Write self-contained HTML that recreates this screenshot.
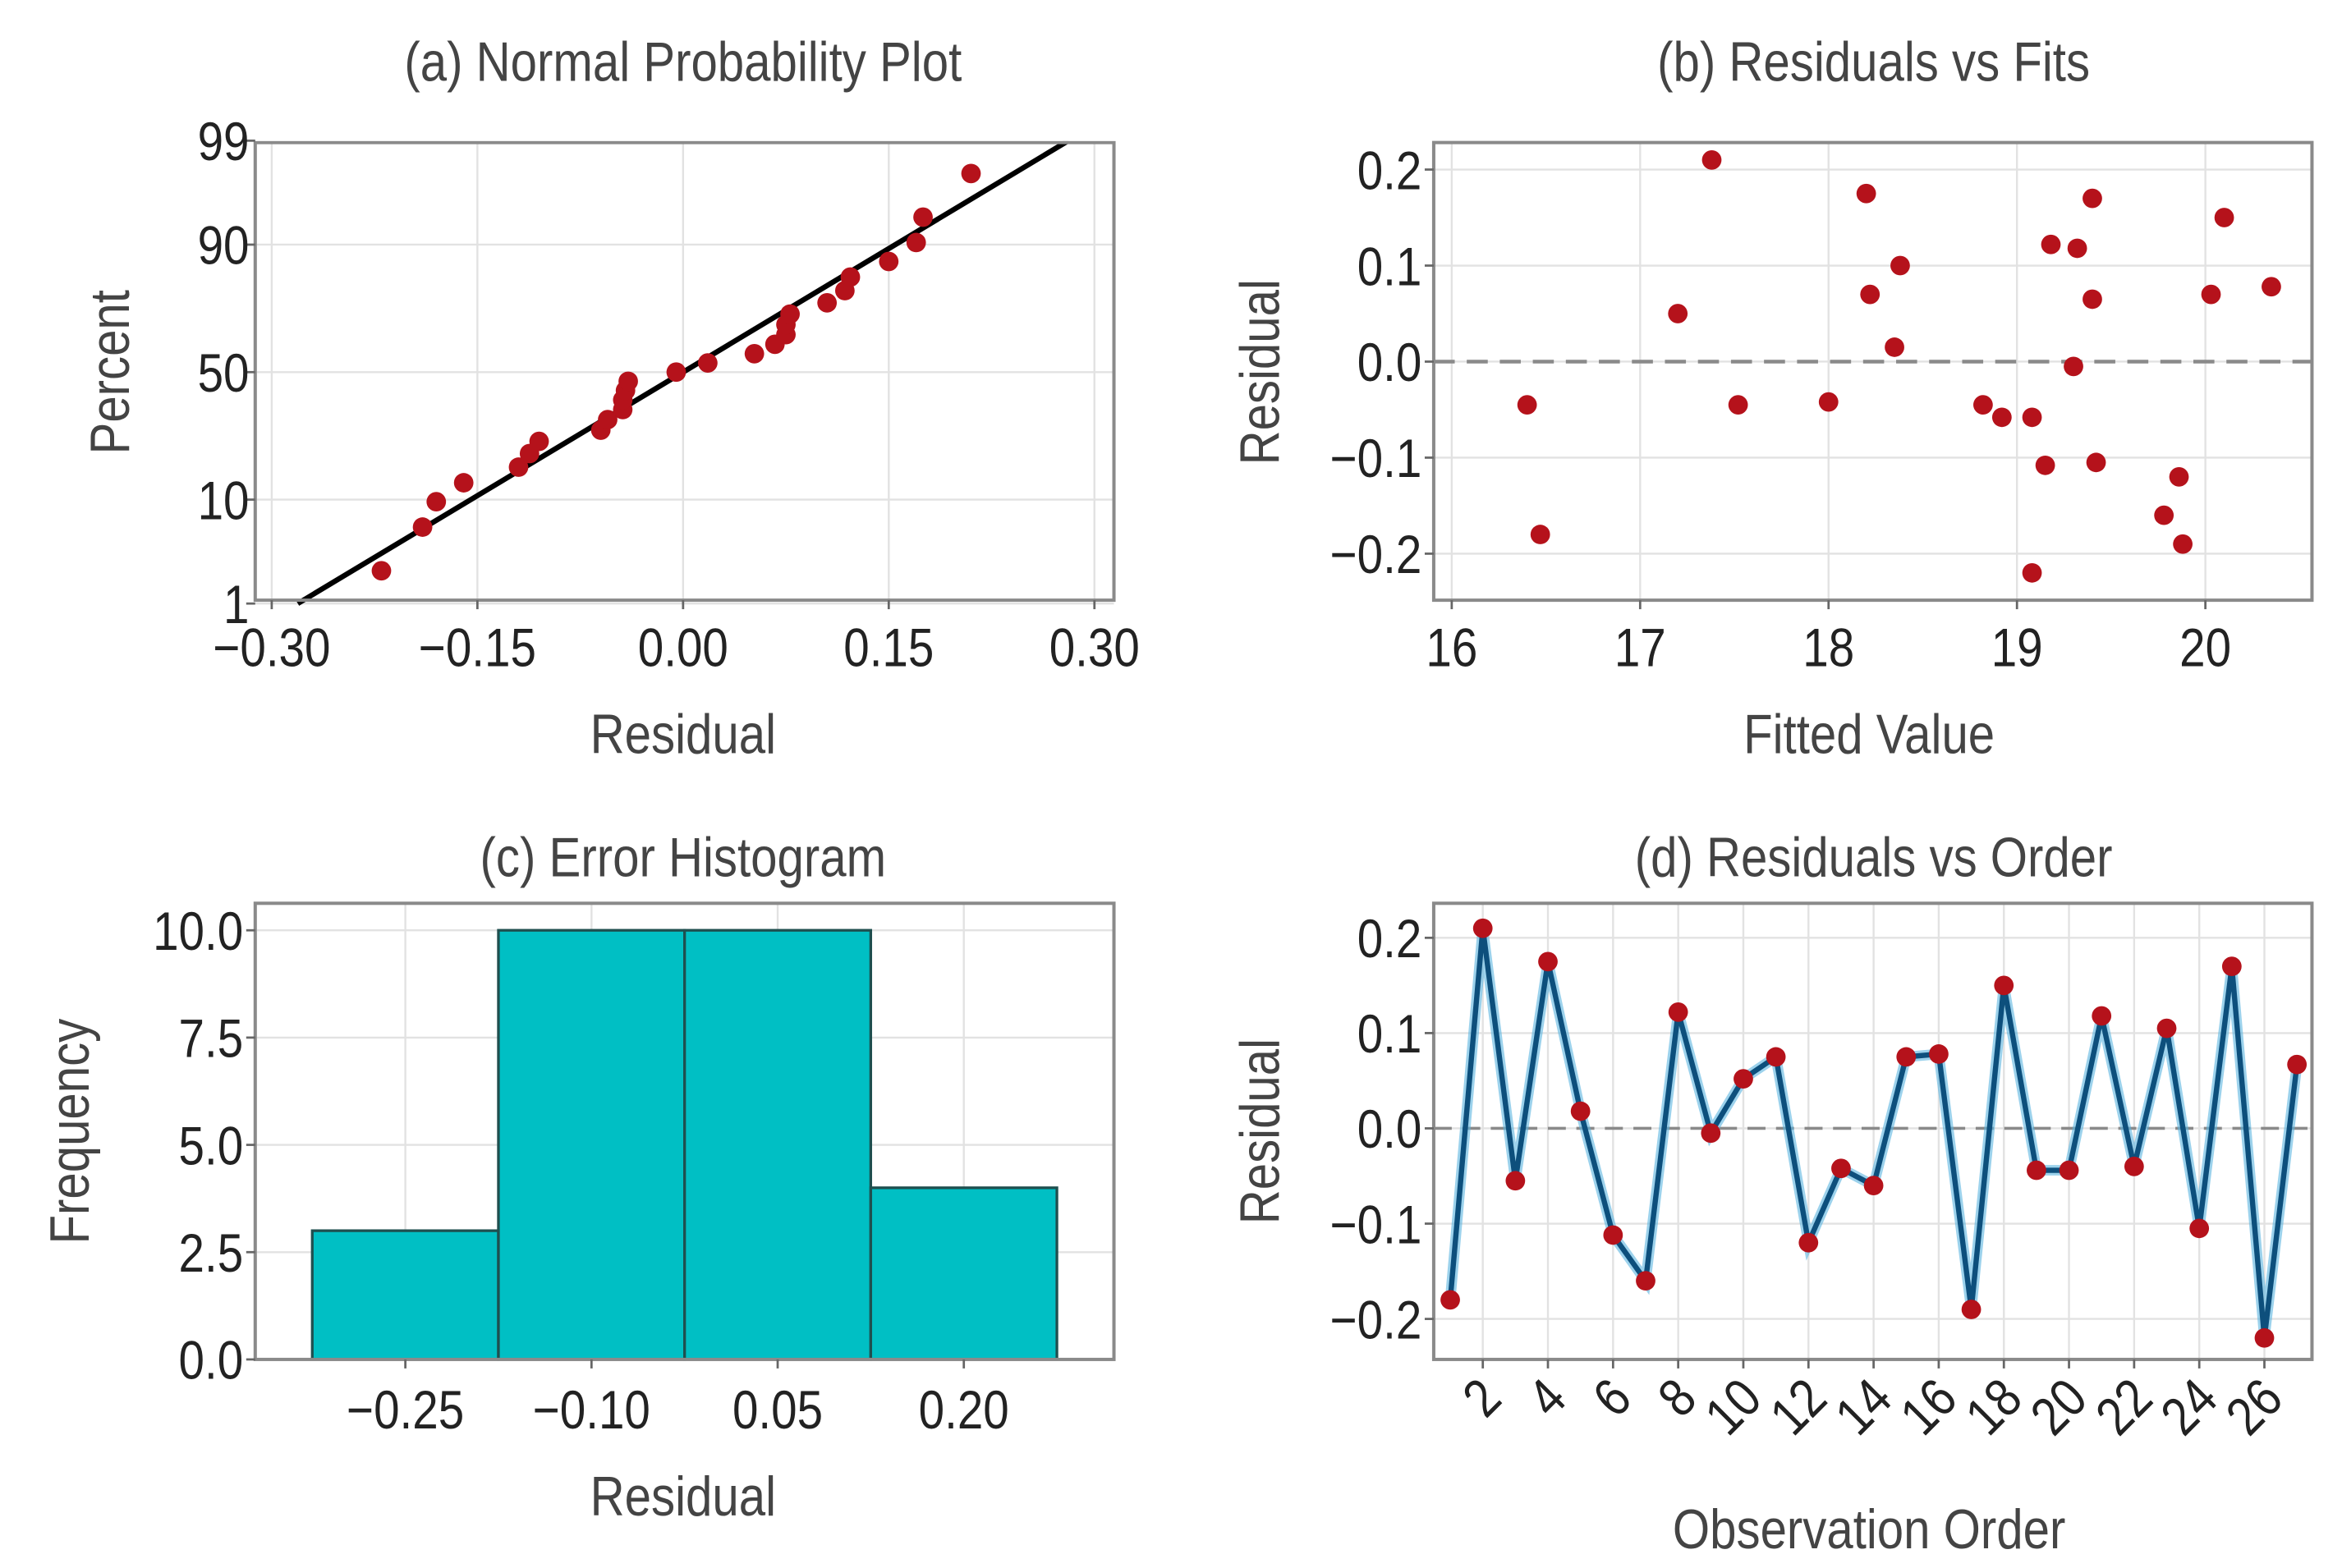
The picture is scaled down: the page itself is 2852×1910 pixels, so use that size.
<!DOCTYPE html>
<html><head><meta charset="utf-8">
<style>
html,body{margin:0;padding:0;background:#fff;}
svg{display:block;}
text{font-family:"Liberation Sans",sans-serif;fill:#333;}
.title{font-size:37px;fill:#444;}
.tick{font-size:36px;fill:#222;}
.axl{font-size:37px;fill:#444;}
.grid{stroke:#e2e2e2;stroke-width:1.3;}
.box{fill:none;stroke:#8a8a8a;stroke-width:2.2;}
</style></head>
<body>
<svg id="fig" width="2852" height="1910" viewBox="0 0 1560 1045" preserveAspectRatio="none" xmlns="http://www.w3.org/2000/svg"></svg>
<script>
// ---- data ----
const orderResiduals = [-0.18,0.21,-0.055,0.175,0.018,-0.112,-0.16,0.122,-0.005,0.052,0.075,-0.12,-0.042,-0.06,0.075,0.078,-0.19,0.15,-0.044,-0.044,0.118,-0.04,0.105,-0.105,0.17,-0.22,0.067];
const fittedValues = [16.4,16.47,17.2,17.38,17.52,18.0,18.2,18.22,18.35,18.38,18.82,18.92,19.08,19.08,19.15,19.18,19.3,19.32,19.4,19.4,19.42,19.78,19.86,19.88,20.03,20.1,20.35];
const fitResiduals = [-0.045,-0.18,0.05,0.21,-0.045,-0.042,0.175,0.07,0.015,0.1,-0.045,-0.058,-0.058,-0.22,-0.108,0.122,-0.005,0.118,0.17,0.065,-0.105,-0.16,-0.12,-0.19,0.07,0.15,0.078];
const histEdges = [-0.325,-0.175,-0.025,0.125,0.275];
const histCounts = [3,10,10,4];
const npLineX = [-0.281,0.281];
const npLineP = [1,99];
const aXTicks = [-0.30,-0.15,0.00,0.15,0.30];
const aXTickLabels = ["\u22120.30","\u22120.15","0.00","0.15","0.30"];
const aYTicks = [1,10,50,90,99];
const bXTicks = [16,17,18,19,20];
const resTicks = [0.2,0.1,0.0,-0.1,-0.2];
const resTickLabels = ["0.2","0.1","0.0","\u22120.1","\u22120.2"];
const cXTicks = [-0.25,-0.10,0.05,0.20];
const cXTickLabels = ["\u22120.25","\u22120.10","0.05","0.20"];
const cYTicks = [0,2.5,5,7.5,10];
const cYTickLabels = ["0.0","2.5","5.0","7.5","10.0"];
const dXTicks = [2,4,6,8,10,12,14,16,18,20,22,24,26];

// ---- helpers ----
const NS="http://www.w3.org/2000/svg";
const svg=document.getElementById('fig');
function mk(tag,attrs,parent){const e=document.createElementNS(NS,tag);for(const k in attrs)e.setAttribute(k,attrs[k]);(parent||svg).appendChild(e);return e;}
function txt(s,x,y,cls,anchor,parent){const t=mk('text',{x:x,y:y,class:cls,'text-anchor':anchor||'middle'},parent);t.textContent=s;return t;}
function probit(p){
 const a=[-39.69683028665376,220.9460984245205,-275.9285104469687,138.3577518672690,-30.66479806614716,2.506628277459239];
 const b=[-54.47609879822406,161.5858589887873,-155.6989798598866,66.80131188771972,-13.28068155288572];
 const c=[-0.007784894002430293,-0.3223964580411365,-2.400758277161838,-2.549732539343734,4.374664141464968,2.938163982698783];
 const d=[0.007784695709041462,0.3224671290700398,2.445134137142996,3.754408661907416];
 const pl=0.02425;let q,r;
 if(p<pl){q=Math.sqrt(-2*Math.log(p));return (((((c[0]*q+c[1])*q+c[2])*q+c[3])*q+c[4])*q+c[5])/((((d[0]*q+d[1])*q+d[2])*q+d[3])*q+1);}
 if(p>1-pl){q=Math.sqrt(-2*Math.log(1-p));return -(((((c[0]*q+c[1])*q+c[2])*q+c[3])*q+c[4])*q+c[5])/((((d[0]*q+d[1])*q+d[2])*q+d[3])*q+1);}
 q=p-0.5;r=q*q;return (((((a[0]*r+a[1])*r+a[2])*r+a[3])*r+a[4])*r+a[5])*q/(((((b[0]*r+b[1])*r+b[2])*r+b[3])*r+b[4])*r+1);
}
function lin(d0,d1,r0,r1){return v=>r0+(v-d0)*(r1-r0)/(d1-d0);}

// ---- panel A ----
(function(){
 const g=mk('g',{});
 
 
 const L=170,R=742,T=95,B=400;
 const x=lin(0,0.15,455,592);
 const y=p=>248-probit(p/100)*66.3;
 aXTicks.forEach(v=>mk('line',{x1:x(v),x2:x(v),y1:T,y2:B,class:'grid'},g));
 aYTicks.forEach(v=>mk('line',{x1:L,x2:R,y1:y(v),y2:y(v),class:'grid'},g));
 const sorted=orderResiduals.slice().sort((a,b)=>a-b);const n=sorted.length;
 const ln=mk('line',{x1:x(npLineX[0]),y1:y(npLineP[0]),x2:x(npLineX[1]),y2:y(npLineP[1]),stroke:'#000','stroke-width':3.5},g);
 
 
 sorted.forEach((v,i)=>{const p=(i+1-0.375)/(n+0.25)*100;
  const c=mk('circle',{cx:x(v),cy:y(p),r:6.5,fill:'#b5121b'},g);
  
  });
 mk('rect',{x:L,y:T,width:R-L,height:B-T,class:'box'},g);
 mk('rect',{x:0,y:0,width:1560,height:T-1,fill:'#fff'},g);
 aXTicks.forEach((v,i)=>{mk('line',{x1:x(v),x2:x(v),y1:B,y2:B+6,stroke:'#666','stroke-width':1.5},g);txt(aXTickLabels[i],x(v),B+44,'tick','middle',g);});
 aYTicks.forEach(v=>{mk('line',{x1:L-6,x2:L,y1:y(v),y2:y(v),stroke:'#666','stroke-width':1.5},g);txt(String(v),L-4,y(v)+13,'tick','end',g);});
 txt('(a) Normal Probability Plot',455,54,'title','middle',g);
 txt('Residual',455,502,'axl','middle',g);
 const yl=txt('Percent',0,0,'axl','middle',g);yl.setAttribute('transform','translate(86,248) rotate(-90)');
})();

// ---- panel B ----
(function(){
 const g=mk('g',{});
 
 
 const L=955,R=1540,T=95,B=400;
 const x=lin(16,17,967,1092.5);const y=lin(0,0.1,241,177);
 bXTicks.forEach(v=>mk('line',{x1:x(v),x2:x(v),y1:T,y2:B,class:'grid'},g));
 resTicks.forEach(v=>mk('line',{x1:L,x2:R,y1:y(v),y2:y(v),class:'grid'},g));
 mk('line',{x1:L,x2:R,y1:y(0),y2:y(0),stroke:'#8a8a8a','stroke-width':2.5,'stroke-dasharray':'14,8'},g);
 fittedValues.forEach((f,i)=>{const c=mk('circle',{cx:x(f),cy:y(fitResiduals[i]),r:6.5,fill:'#b5121b'},g);
  
  });
 mk('rect',{x:L,y:T,width:R-L,height:B-T,class:'box'},g);
 bXTicks.forEach(v=>{mk('line',{x1:x(v),x2:x(v),y1:B,y2:B+6,stroke:'#666','stroke-width':1.5},g);txt(String(v),x(v),B+44,'tick','middle',g);});
 resTicks.forEach((v,i)=>{mk('line',{x1:L-6,x2:L,y1:y(v),y2:y(v),stroke:'#666','stroke-width':1.5},g);txt(resTickLabels[i],L-8,y(v)+13,'tick','end',g);});
 txt('(b) Residuals vs Fits',1248,54,'title','middle',g);
 txt('Fitted Value',1245,502,'axl','middle',g);
 const yl=txt('Residual',0,0,'axl','middle',g);yl.setAttribute('transform','translate(852,248) rotate(-90)');
})();

// ---- panel C ----
(function(){
 const g=mk('g',{});
 
 
 const L=170,R=742,T=602,B=906;
 const x=lin(-0.25,0.20,270,642);const y=lin(0,10,906,620);
 cXTicks.forEach(v=>mk('line',{x1:x(v),x2:x(v),y1:T,y2:B,class:'grid'},g));
 cYTicks.forEach(v=>mk('line',{x1:L,x2:R,y1:y(v),y2:y(v),class:'grid'},g));
 histCounts.forEach((c,i)=>{const r=mk('rect',{x:x(histEdges[i]),y:y(c),width:x(histEdges[i+1])-x(histEdges[i]),height:y(0)-y(c),fill:'#00bfc4',stroke:'#1f4f4f','stroke-width':1.8},g);
  
  });
 mk('rect',{x:L,y:T,width:R-L,height:B-T,class:'box'},g);
 cXTicks.forEach((v,i)=>{mk('line',{x1:x(v),x2:x(v),y1:B,y2:B+6,stroke:'#666','stroke-width':1.5},g);txt(cXTickLabels[i],x(v),B+46,'tick','middle',g);});
 cYTicks.forEach((v,i)=>{mk('line',{x1:L-6,x2:L,y1:y(v),y2:y(v),stroke:'#666','stroke-width':1.5},g);txt(cYTickLabels[i],L-8,y(v)+13,'tick','end',g);});
 txt('(c) Error Histogram',455,584,'title','middle',g);
 txt('Residual',455,1010,'axl','middle',g);
 const yl=txt('Frequency',0,0,'axl','middle',g);yl.setAttribute('transform','translate(59,754) rotate(-90)');
})();

// ---- panel D ----
(function(){
 const g=mk('g',{});
 
 
 const L=955,R=1540,T=602,B=906;
 const x=lin(1,27,966,1530);const y=lin(0,0.1,752,688.5);
 dXTicks.forEach(v=>mk('line',{x1:x(v),x2:x(v),y1:T,y2:B,class:'grid'},g));
 resTicks.forEach(v=>mk('line',{x1:L,x2:R,y1:y(v),y2:y(v),class:'grid'},g));
 mk('line',{x1:L,x2:R,y1:y(0),y2:y(0),stroke:'#8a8a8a','stroke-width':2,'stroke-dasharray':'12,7'},g);
 const pts=orderResiduals.map((v,i)=>x(i+1)+','+y(v)).join(' ');
 mk('polyline',{points:pts,fill:'none',stroke:'#5ab4e0','stroke-width':7,'stroke-linejoin':'miter',opacity:0.6},g);
 const pl=mk('polyline',{points:pts,fill:'none',stroke:'#0d4f7c','stroke-width':3.5},g);
 
 
 orderResiduals.forEach((v,i)=>{const c=mk('circle',{cx:x(i+1),cy:y(v),r:6.5,fill:'#b5121b'},g);
  
  });
 mk('rect',{x:L,y:T,width:R-L,height:B-T,class:'box'},g);
 dXTicks.forEach(v=>{mk('line',{x1:x(v),x2:x(v),y1:B,y2:B+6,stroke:'#666','stroke-width':1.5},g);
  const t=txt(String(v),0,0,'tick','end',g);t.setAttribute('transform','translate('+(x(v)+14)+','+(B+28)+') rotate(-45)');});
 resTicks.forEach((v,i)=>{mk('line',{x1:L-6,x2:L,y1:y(v),y2:y(v),stroke:'#666','stroke-width':1.5},g);txt(resTickLabels[i],L-8,y(v)+13,'tick','end',g);});
 txt('(d) Residuals vs Order',1248,584,'title','middle',g);
 txt('Observation Order',1245,1032,'axl','middle',g);
 const yl=txt('Residual',0,0,'axl','middle',g);yl.setAttribute('transform','translate(852,754) rotate(-90)');
})();

// condense all text horizontally (reference uses a narrow face)
document.querySelectorAll('#fig text').forEach(t=>{
 const w=t.getComputedTextLength();
 if(w>0){t.setAttribute('textLength',(w*0.86).toFixed(1));t.setAttribute('lengthAdjust','spacingAndGlyphs');}
});
</script>
</body></html>
